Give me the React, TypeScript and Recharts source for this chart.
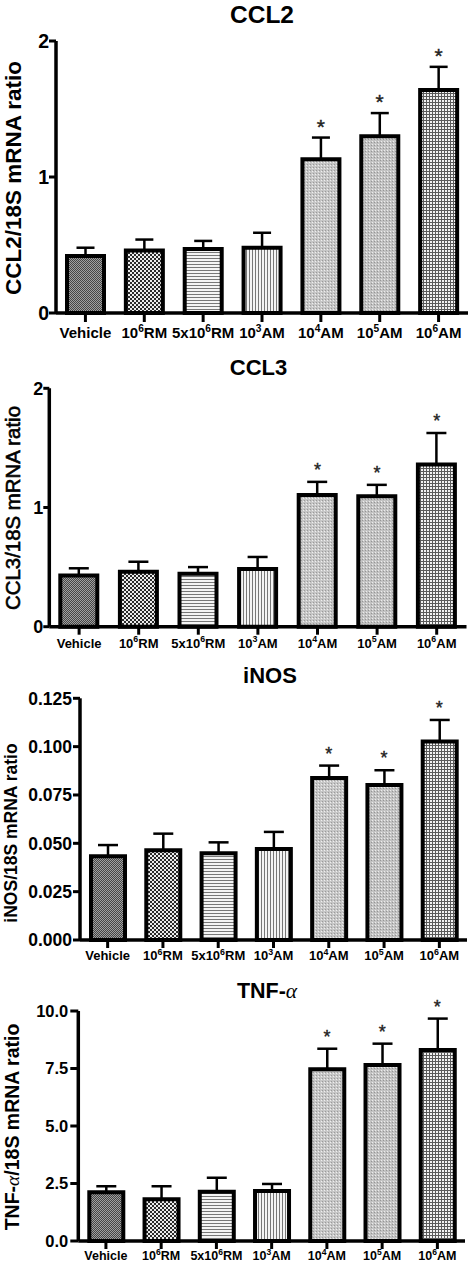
import React from 'react';
import { ComposedChart, Bar, Cell, ErrorBar, Line, XAxis, YAxis } from 'recharts';

// groups on the x axis, "^" marks the superscript digit
const groups = ['Vehicle', '10^6RM', '5x10^6RM', '10^3AM', '10^4AM', '10^5AM', '10^6AM'];
const significant = [false, false, false, false, true, true, true];

const ccl2Mean = [0.42, 0.46, 0.47, 0.48, 1.13, 1.3, 1.64];
const ccl2Sem = [0.06, 0.08, 0.06, 0.11, 0.16, 0.17, 0.17];
const ccl2Ticks = [0, 1, 2];

const ccl3Mean = [0.43, 0.46, 0.445, 0.485, 1.105, 1.095, 1.36];
const ccl3Sem = [0.06, 0.085, 0.055, 0.1, 0.11, 0.095, 0.265];
const ccl3Ticks = [0, 1, 2];

const inosMean = [0.0433, 0.0464, 0.0448, 0.0471, 0.0838, 0.0802, 0.1026];
const inosSem = [0.0058, 0.0086, 0.0057, 0.0088, 0.0064, 0.0076, 0.0112];
const inosTicks = [0, 0.025, 0.05, 0.075, 0.1, 0.125];

const tnfMean = [2.12, 1.81, 2.14, 2.17, 7.47, 7.65, 8.3];
const tnfSem = [0.26, 0.57, 0.61, 0.31, 0.89, 0.93, 1.37];
const tnfTicks = [0, 2.5, 5, 7.5, 10];

const FONT = '"Liberation Sans", Arial, Helvetica, sans-serif';
const YW = 40;
const XH = 20;

const alpha = (
  <span style={{ fontFamily: '"Liberation Serif", serif', fontStyle: 'italic', fontWeight: 'normal' }}>α</span>
);

const panels = [
  {
    id: 'ccl2', title: 'CCL2' as React.ReactNode, ylabel: 'CCL2/18S mRNA ratio' as React.ReactNode,
    mean: ccl2Mean, sem: ccl2Sem, ticks: ccl2Ticks, digits: 0,
    top: 0, height: 345, plotTop: 41, plotBottom: 313, axisX: 56, axisRight: 468,
    titleX: 262, titleY: 15.3, titleSize: 24.5,
    labelX: 13.5, labelY: 177.5, labelSize: 22.5, labelWeight: 'bold', labelStroke: 0,
    yTickFont: 19.5, yTickLen: 7, yTickGap: 0,
    xFont: 15, xTickLen: 9, xOffset: 16,
    barSize: 37, cap: 9, starSize: 21, starDy: 4,
  },
  {
    id: 'ccl3', title: 'CCL3', ylabel: 'CCL3/18S mRNA ratio',
    mean: ccl3Mean, sem: ccl3Sem, ticks: ccl3Ticks, digits: 0,
    top: 345, height: 310, plotTop: 388.3, plotBottom: 626.7, axisX: 49.3, axisRight: 466.5,
    titleX: 258.5, titleY: 367.5, titleSize: 22,
    labelX: 12.5, labelY: 508, labelSize: 20.4, labelWeight: 'normal', labelStroke: 0.6,
    yTickFont: 18, yTickLen: 6, yTickGap: 0,
    xFont: 13, xTickLen: 8, xOffset: 12.8,
    barSize: 37, cap: 10, starSize: 18, starDy: 6,
  },
  {
    id: 'inos', title: 'iNOS', ylabel: 'iNOS/18S mRNA ratio',
    mean: inosMean, sem: inosSem, ticks: inosTicks, digits: 3,
    top: 655, height: 310, plotTop: 698.3, plotBottom: 940, axisX: 80, axisRight: 467,
    titleX: 270, titleY: 675.5, titleSize: 22,
    labelX: 11.5, labelY: 832.7, labelSize: 17.5, labelWeight: 'bold', labelStroke: 0,
    yTickFont: 17.5, yTickLen: 7, yTickGap: 1,
    xFont: 13, xTickLen: 8, xOffset: 12,
    barSize: 34, cap: 10, starSize: 18, starDy: 6,
  },
  {
    id: 'tnf', title: <>TNF-{alpha}</>, ylabel: <>TNF-{alpha}/18S mRNA ratio</>,
    mean: tnfMean, sem: tnfSem, ticks: tnfTicks, digits: 1,
    top: 965, height: 298, plotTop: 1011, plotBottom: 1241, axisX: 78.3, axisRight: 465,
    titleX: 267, titleY: 991.5, titleSize: 21.5,
    labelX: 13, labelY: 1127, labelSize: 19.5, labelWeight: 'bold', labelStroke: 0,
    yTickFont: 16.5, yTickLen: 8, yTickGap: 2,
    xFont: 12.5, xTickLen: 8, xOffset: 11,
    barSize: 34, cap: 10, starSize: 18, starDy: 6,
  },
];

const XTick = (props: any) => {
  const { x, y, payload, fontSize, offset } = props;
  const label: string = String(payload.value);
  const i = label.indexOf('^');
  let content: React.ReactNode = label;
  if (i >= 0) {
    const rise = fontSize * 0.42;
    content = [
      <tspan key="a">{label.slice(0, i)}</tspan>,
      <tspan key="b" dy={-rise} fontSize={fontSize * 0.68}>{label[i + 1]}</tspan>,
      <tspan key="c" dy={rise}>{label.slice(i + 2)}</tspan>,
    ];
  }
  return (
    <text x={x} y={y + offset} textAnchor="middle" fontSize={fontSize} fontWeight="bold" fontFamily={FONT} fill="#000">
      {content}
    </text>
  );
};

const Patterns = () => (
  <svg width={0} height={0} style={{ position: 'absolute' }}>
    <defs>
      <pattern id="pat0" width="2" height="2" patternUnits="userSpaceOnUse">
        <rect width="2" height="2" fill="#a0a0a0" />
        <rect width="1" height="1" fill="#454545" />
        <rect x="1" y="1" width="1" height="1" fill="#454545" />
      </pattern>
      <pattern id="pat1" width="4" height="4" patternUnits="userSpaceOnUse">
        <rect width="4" height="4" fill="#ececec" />
        <rect width="2" height="2" fill="#2a2a2a" />
        <rect x="2" y="2" width="2" height="2" fill="#2a2a2a" />
      </pattern>
      <pattern id="pat2" width="4" height="3" patternUnits="userSpaceOnUse">
        <rect width="4" height="3" fill="#f4f4f4" />
        <rect width="4" height="1" fill="#777" />
      </pattern>
      <pattern id="pat3" width="3" height="4" patternUnits="userSpaceOnUse">
        <rect width="3" height="4" fill="#f4f4f4" />
        <rect width="1" height="4" fill="#777" />
      </pattern>
      <pattern id="pat4" width="3" height="3" patternUnits="userSpaceOnUse">
        <rect width="3" height="3" fill="#c6c6c6" />
        <rect width="1" height="1" fill="#efefef" />
        <rect x="1" y="2" width="1" height="1" fill="#9a9a9a" />
      </pattern>
      <pattern id="pat5" width="3" height="3" patternUnits="userSpaceOnUse">
        <rect width="3" height="3" fill="#c2c2c2" />
        <rect width="1" height="1" fill="#ececec" />
        <rect x="2" y="1" width="1" height="1" fill="#959595" />
      </pattern>
      <pattern id="pat6" width="3" height="3" patternUnits="userSpaceOnUse">
        <rect width="3" height="3" fill="#f2f2f2" />
        <rect width="3" height="1" fill="#5a5a5a" />
        <rect width="1" height="3" fill="#5a5a5a" />
      </pattern>
    </defs>
  </svg>
);

const Panel = ({ p }: { p: (typeof panels)[number] }) => {
  const data = groups.map((name, i) => ({
    name,
    mean: p.mean[i],
    err: [0, p.sem[i]],
    top: p.mean[i] + p.sem[i],
    sig: significant[i],
  }));
  const max = p.ticks[p.ticks.length - 1];
  return (
    <div style={{ position: 'absolute', left: 0, top: p.top, width: 471, height: p.height }}>
      <ComposedChart
        width={471}
        height={p.height}
        data={data}
        margin={{
          top: p.plotTop - p.top,
          bottom: p.top + p.height - p.plotBottom - XH,
          left: p.axisX - YW,
          right: 471 - p.axisRight,
        }}
      >
        <XAxis
          dataKey="name"
          height={XH}
          interval={0}
          tickSize={p.xTickLen}
          tickMargin={0}
          axisLine={{ stroke: '#000', strokeWidth: 3.5 }}
          tickLine={{ stroke: '#000', strokeWidth: 3 }}
          tick={(t: any) => <XTick {...t} fontSize={p.xFont} offset={p.xOffset} />}
        />
        <YAxis
          width={YW}
          domain={[0, max]}
          ticks={p.ticks}
          interval={0}
          tickSize={p.yTickLen}
          tickMargin={p.yTickGap}
          tickFormatter={(v: number) => v.toFixed(p.digits)}
          axisLine={{ stroke: '#000', strokeWidth: 3.5 }}
          tickLine={{ stroke: '#000', strokeWidth: 3 }}
          tick={{ fill: '#000', fontSize: p.yTickFont, fontWeight: 'bold', fontFamily: FONT }}
        />
        <Bar dataKey="mean" barSize={p.barSize} stroke="#000" strokeWidth={4} isAnimationActive={false}>
          {data.map((d, i) => (
            <Cell key={d.name} fill={`url(#pat${i})`} />
          ))}
          <ErrorBar dataKey="err" width={p.cap} stroke="#000" strokeWidth={2.5} direction="y" />
        </Bar>
        <Line
          dataKey="top"
          stroke="none"
          isAnimationActive={false}
          activeDot={false}
          legendType="none"
          dot={(d: any) =>
            d.payload.sig ? (
              <text key={d.index} x={d.cx} y={d.cy - p.starDy} textAnchor="middle" fontSize={p.starSize} fontFamily={FONT} fill="#222" stroke="#222" strokeWidth={0.4}>
                *
              </text>
            ) : (
              <g key={d.index} />
            )
          }
        />
      </ComposedChart>
      <div
        style={{
          position: 'absolute', left: p.titleX, top: p.titleY - p.top, transform: 'translate(-50%, -50%)',
          fontFamily: FONT, fontWeight: 'bold', fontSize: p.titleSize, lineHeight: 1, whiteSpace: 'nowrap',
        }}
      >
        {p.title}
      </div>
      <div
        style={{
          position: 'absolute', left: p.labelX, top: p.labelY - p.top, transform: 'translate(-50%, -50%) rotate(-90deg)',
          fontFamily: FONT, fontWeight: p.labelWeight as any, fontSize: p.labelSize, lineHeight: 1, whiteSpace: 'nowrap',
          WebkitTextStroke: p.labelStroke ? `${p.labelStroke}px #000` : undefined,
        }}
      >
        {p.ylabel}
      </div>
    </div>
  );
};

export default function App() {
  return (
    <div style={{ position: 'absolute', left: 0, top: 0, width: 471, height: 1263, background: '#fff', overflow: 'hidden' }}>
      <Patterns />
      {panels.map((p) => (
        <Panel key={p.id} p={p} />
      ))}
    </div>
  );
}
